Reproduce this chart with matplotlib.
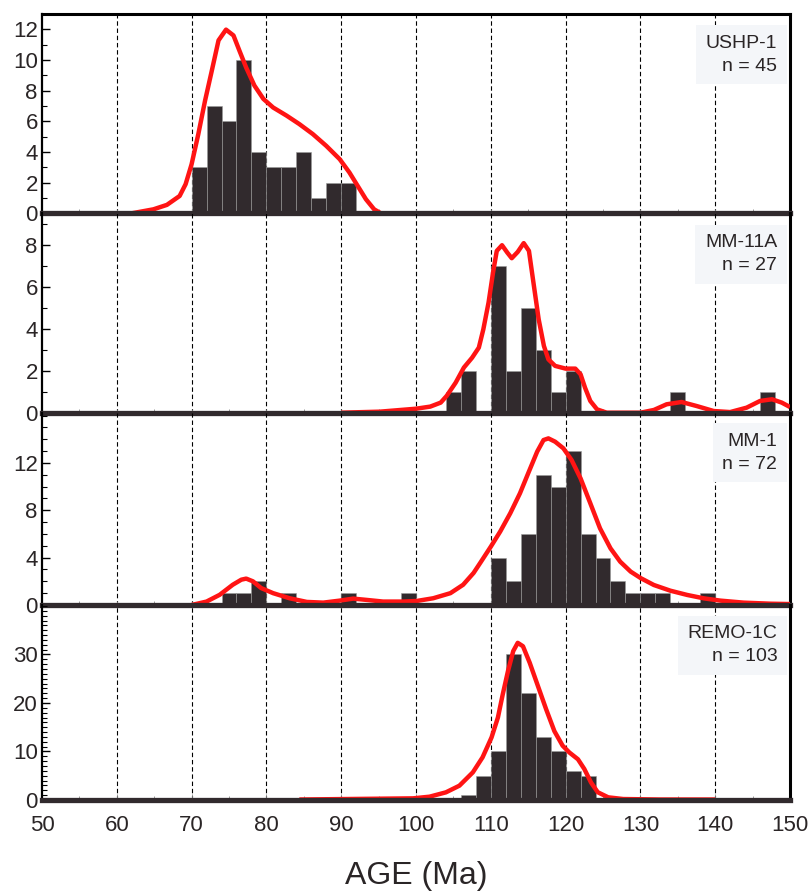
import numpy as np
import matplotlib
matplotlib.use("Agg")
import matplotlib.pyplot as plt
from matplotlib.ticker import MultipleLocator, FixedLocator

plt.rcParams['font.family'] = ['Liberation Sans', 'DejaVu Sans']

BIN = 2  # Ma

# ---- USHP-1 ----
ushp_edges = [70, 72, 74, 76, 78, 80, 82, 84, 86, 88, 90]
ushp_counts = [3, 7, 6, 10, 4, 3, 3, 4, 1, 2, 2]
ushp_age = [62.0, 64.9, 66.7, 68.4, 69.2, 70.0, 70.9, 71.8, 72.7, 73.6, 74.6, 75.6, 76.4,
            77.3, 78.4, 79.6, 80.9, 82.7, 84.4, 86.2, 88.0, 89.8, 91.1, 92.2, 93.3, 94.4, 95.3]
ushp_pdf = [0.0, 0.26, 0.55, 1.13, 1.9, 3.2, 5.17, 7.35, 9.3, 11.28, 11.98, 11.6, 10.6,
            9.5, 8.33, 7.46, 6.9, 6.37, 5.82, 5.17, 4.4, 3.53, 2.66, 1.79, 0.92, 0.26, 0.0]
ushp_ticks = [0, 2, 4, 6, 8, 10, 12]

# ---- MM-11A ----
mm11_edges = [104, 106, 110, 112, 114, 116, 118, 120, 134, 146]
mm11_counts = [1, 2, 7, 2, 5, 3, 1, 2, 1, 1]
mm11_age = [90.0, 95.2, 100.0, 101.9, 103.3, 104.1, 105.3, 106.4, 107.5, 108.4, 109.0, 109.7,
            110.3, 110.8, 111.5, 112.2, 112.8, 113.6, 114.4, 115.1, 115.7, 116.4, 117.1,
            117.7, 118.6, 120.0, 121.3, 122.0, 122.6, 123.3, 124.2, 125.5, 130.0, 131.8,
            133.5, 135.5, 137.5, 139.8, 142.0, 144.2, 146.0, 147.6, 148.9, 150.0]
mm11_pdf = [0.0, 0.05, 0.19, 0.29, 0.48, 0.8, 1.43, 2.15, 2.62, 3.1, 3.97, 5.25,
            6.68, 7.71, 7.98, 7.63, 7.36, 7.66, 8.08, 7.71, 6.2, 4.45, 3.18,
            2.54, 2.23, 2.1, 2.1, 1.83, 1.19, 0.56, 0.16, 0.0, 0.0, 0.13,
            0.4, 0.51, 0.32, 0.08, 0.03, 0.24, 0.56, 0.64, 0.48, 0.27]
mm11_ticks = [0, 2, 4, 6, 8]

# ---- MM-1 ----
mm1_edges = [74, 76, 78, 82, 90, 98, 110, 112, 114, 116, 118, 120, 122, 124, 126, 128,
             130, 132, 138]
mm1_counts = [1, 1, 2, 1, 1, 1, 4, 2, 6, 11, 10, 13, 6, 4, 2, 1, 1, 1, 1]
mm1_age = [70.0, 72.0, 73.75, 75.5, 76.65, 77.3, 78.2, 79.3, 80.9, 83.1, 85.4, 87.6, 89.8,
           91.6, 93.4, 95.6, 98.3, 100.1, 102.3, 104.6, 106.3, 107.7, 108.6, 110.0,
           111.25, 112.6, 113.9, 115.0, 116.2, 117.05, 117.7, 118.6, 119.7, 120.8, 122.0,
           123.3, 124.6, 126.0, 127.3, 128.7, 130.1, 131.8, 134.0, 136.25, 138.5, 140.7,
           143.8, 147.4, 150.0]
mm1_pdf = [0.0, 0.29, 0.86, 1.71, 2.14, 2.23, 2.0, 1.43, 1.0, 0.57, 0.26, 0.2, 0.37,
           0.54, 0.43, 0.29, 0.29, 0.34, 0.57, 1.0, 1.71, 2.71, 3.57, 4.93,
           6.2, 7.75, 9.44, 11.13, 12.96, 13.94, 14.08, 13.8, 13.24, 12.25, 10.7,
           8.6, 6.48, 4.79, 3.66, 2.82, 2.25, 1.69, 1.21, 0.85, 0.56, 0.37,
           0.2, 0.11, 0.08]
mm1_ticks = [0, 4, 8, 12]

# ---- REMO-1C ----
remo_edges = [106, 108, 110, 112, 114, 116, 118, 120, 122]
remo_counts = [1, 5, 10, 30, 22, 13, 10, 6, 5]
remo_age = [84.4, 99.6, 101.8, 104.0, 105.8, 107.6, 108.9, 110.1, 110.95, 111.6, 112.3,
            113.0, 113.6, 114.3, 115.2, 116.3, 117.4, 118.5, 119.6, 120.5, 121.65, 122.5,
            123.4, 124.3, 125.7, 127.7, 132.6, 140.0]
remo_pdf = [0.1, 0.34, 0.68, 1.58, 2.95, 5.7, 8.8, 12.9, 17.0, 21.8, 26.6,
            30.7, 32.4, 31.7, 28.3, 23.5, 18.7, 14.2, 11.2, 9.8, 8.4, 6.4,
            3.6, 1.6, 0.55, 0.2, 0.1, 0.1]
remo_ticks = [0, 10, 20, 30]

samples = ['USHP-1', 'MM-11A', 'MM-1', 'REMO-1C']
n_grains = [45, 27, 72, 103]
age_ticks = list(range(50, 151, 10))

DARK = '#312a2d'
RED = '#ff1414'
TXT = '#2a2526'
W, H = 809, 892

fig = plt.figure(figsize=(W / 100, H / 100), dpi=100)

# panel extents in pixels (top, bottom) and y max
panels = [
    (14, 213.3, 13.0, ushp_ticks, ushp_edges, ushp_counts, ushp_age, ushp_pdf),
    (213.3, 412.7, 9.5, mm11_ticks, mm11_edges, mm11_counts, mm11_age, mm11_pdf),
    (412.7, 605, 16.25, mm1_ticks, mm1_edges, mm1_counts, mm1_age, mm1_pdf),
    (605, 800, 40.2, remo_ticks, remo_edges, remo_counts, remo_age, remo_pdf),
]

left, right = 42, 790
axes = []
for i, (top, bot, ymax, yt, edges, counts, age, pdf) in enumerate(panels):
    ax = fig.add_axes([left / W, 1 - bot / H, (right - left) / W, (bot - top) / H])
    axes.append(ax)
    ax.set_xlim(50, 150)
    ax.set_ylim(0, ymax)
    for g in age_ticks[1:-1]:
        ax.axvline(g, color='black', lw=0.8, ls=(0, (4, 2.5)), zorder=1)
    ax.bar(edges, counts, width=BIN, align='edge', color=DARK,
           edgecolor='#9a9a9a', linewidth=0.4, zorder=2)
    ax.plot(age, pdf, color=RED, lw=3.2, solid_capstyle='butt', zorder=3)

    ax.yaxis.set_major_locator(FixedLocator(yt))
    ax.yaxis.set_minor_locator(MultipleLocator(1))
    ax.tick_params(axis='y', which='major', direction='in', length=6, width=1,
                   labelsize=16, labelcolor=TXT, pad=3)
    ax.tick_params(axis='y', which='minor', direction='in', length=3.5, width=0.8)
    ax.tick_params(axis='x', which='both', direction='in', length=3, width=0.6,
                   color='#888888')
    ax.xaxis.set_major_locator(FixedLocator(age_ticks))
    ax.xaxis.set_minor_locator(MultipleLocator(5))
    if i < 3:
        ax.tick_params(axis='x', labelbottom=False)

    ax.spines['left'].set_linewidth(1.6)
    ax.spines['right'].set_linewidth(2.2)
    ax.spines['bottom'].set_linewidth(3.8)
    ax.spines['bottom'].set_color(DARK)
    ax.spines['bottom'].set_zorder(4)
    if i == 0:
        ax.spines['top'].set_linewidth(2.2)
    else:
        ax.spines['top'].set_visible(False)
    ax.patch.set_alpha(0)

    ax.text(0.983, 0.895, f'{samples[i]}\nn = {n_grains[i]}', transform=ax.transAxes,
            ha='right', va='top', fontsize=14, color=TXT, linespacing=1.45,
            multialignment='right', zorder=5,
            bbox=dict(boxstyle='square,pad=0.5', fc='#f4f6f9', ec='none'))

ax4 = axes[-1]
ax4.tick_params(axis='x', which='major', labelsize=16, labelcolor=TXT, pad=11,
                length=4)
ax4.set_xlabel('AGE (Ma)', fontsize=23, color=TXT, labelpad=18)

fig.savefig('out.png', dpi=100)
